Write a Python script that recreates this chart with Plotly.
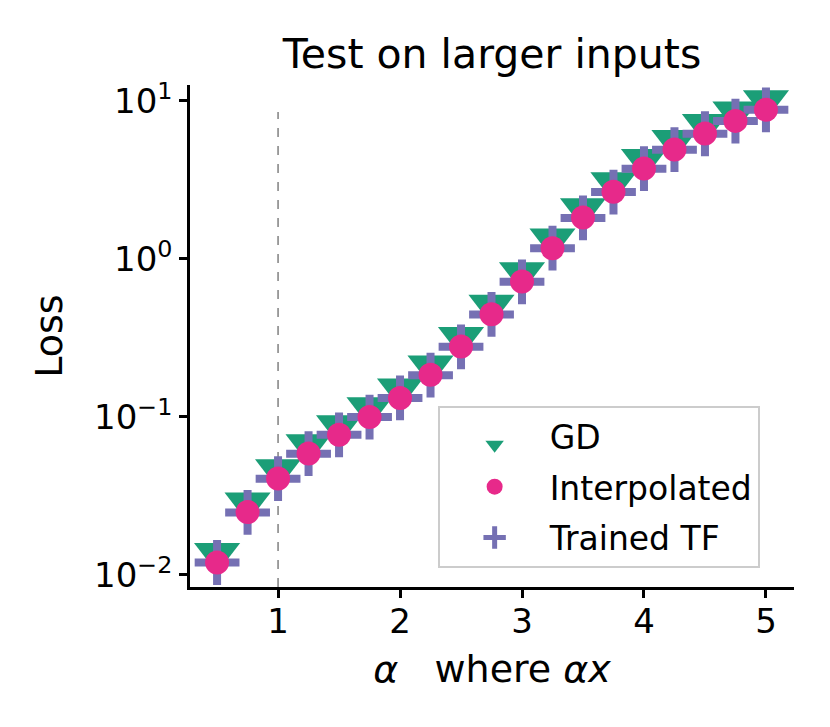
import plotly.graph_objects as go

# ==============================
# DATA
# ==============================

alpha = [0.5, 0.75, 1.0, 1.25, 1.5, 1.75, 2.0, 2.25, 2.5, 2.75,
         3.0, 3.25, 3.5, 3.75, 4.0, 4.25, 4.5, 4.75, 5.0]

loss_gd = [0.0121, 0.0252, 0.0410, 0.0590, 0.0778, 0.101, 0.133, 0.186, 0.281, 0.450,
           0.724, 1.18, 1.84, 2.68, 3.76, 4.96, 6.26, 7.52, 8.86]

loss_interp = [0.0120, 0.0250, 0.0408, 0.0587, 0.0773, 0.100, 0.132, 0.185, 0.279, 0.447,
               0.719, 1.17, 1.83, 2.66, 3.74, 4.93, 6.22, 7.48, 8.81]

loss_tf = [0.0120, 0.0249, 0.0407, 0.0586, 0.0771, 0.0998, 0.132, 0.184, 0.278, 0.446,
           0.717, 1.17, 1.82, 2.65, 3.73, 4.92, 6.20, 7.46, 8.79]

# vertical reference line at alpha = 1 (training scale)
ref_x = [1.0, 1.0]
ref_y = [0.0084, 8.5]

y_tickvals = [0.01, 0.1, 1, 10]
y_ticktext = ["10<sup>\u22122</sup>", "10<sup>\u22121</sup>", "10<sup>0</sup>", "10<sup>1</sup>"]

x_tickvals = [1, 2, 3, 4, 5]

# ==============================
# BUILD GRAPH
# ==============================

FONT = "DejaVu Sans"

fig = go.Figure()

fig.add_trace(go.Scatter(
    x=ref_x, y=ref_y,
    mode="lines",
    showlegend=False,
    hoverinfo="skip",
    line=dict(color="#808080", width=1.5, dash="dash")
))

# upside-down triangle, shifted so its box is centred on the point (like matplotlib 'v')
fig.add_trace(go.Scatter(
    x=alpha, y=loss_gd,
    mode="markers",
    name="GD",
    legendgroup="gd",
    legendrank=1,
    marker=dict(symbol="triangle-up", angle=180, standoff=9, size=40,
                color="#1b9e77", line=dict(width=0))
))

fig.add_trace(go.Scatter(
    x=alpha, y=loss_tf,
    mode="markers",
    name="Trained TF",
    legendgroup="tf",
    legendrank=3,
    marker=dict(symbol="cross-thin", size=32, color="#7570b3",
                line=dict(width=8, color="#7570b3"))
))

fig.add_trace(go.Scatter(
    x=alpha, y=loss_interp,
    mode="markers",
    name="Interpolated",
    legendgroup="interp",
    legendrank=2,
    marker=dict(symbol="circle", size=24, color="#e7298a", line=dict(width=0))
))

# ==============================
# STYLE
# ==============================

fig.update_layout(
    width=830,
    height=727,
    template="simple_white",
    paper_bgcolor="white",
    plot_bgcolor="white",
    font=dict(family=FONT, size=34, color="black"),
    margin=dict(l=190, r=36, t=85, b=140),
    title=dict(
        text="Test on larger inputs",
        font=dict(family=FONT, size=41, color="black"),
        x=0.5 * (190 + 794) / 830, xanchor="center",
        y=1 - 54 / 727, yanchor="middle", yref="container"
    ),
    legend=dict(
        x=0.41, y=0.361, xanchor="left", yanchor="top",
        bgcolor="white",
        bordercolor="#cccccc",
        borderwidth=2,
        itemwidth=100,
        font=dict(family=FONT, size=33, color="black"),
        tracegroupgap=5
    ),
    showlegend=True
)

fig.update_xaxes(
    range=[0.278, 5.23],
    tickvals=x_tickvals,
    automargin=False,
    showline=True, linecolor="black", linewidth=2.5,
    ticks="outside", ticklen=8, tickwidth=2.5, tickcolor="black",
    ticklabelstandoff=-6,
    showgrid=False, zeroline=False, mirror=False,
    tickfont=dict(family=FONT, size=34),
    title=dict(text="<i>\u03b1</i>   where <i>\u03b1x</i>",
               font=dict(family=FONT, size=38), standoff=16)
)

fig.update_yaxes(
    type="log",
    range=[-2.076, 1.101],
    tickvals=y_tickvals,
    ticktext=y_ticktext,
    automargin=False,
    showline=True, linecolor="black", linewidth=2.5,
    ticks="outside", ticklen=8, tickwidth=2.5, tickcolor="black",
    showgrid=False, zeroline=False, mirror=False,
    tickfont=dict(family=FONT, size=34),
    title=dict(text="Loss", font=dict(family=FONT, size=38), standoff=20)
)

# drop the browser's default 8px page margin so the figure sits at the window corner
fig.write_html(
    "out.html",
    config={"displayModeBar": False},
    post_script="document.body.style.margin='0';"
)
